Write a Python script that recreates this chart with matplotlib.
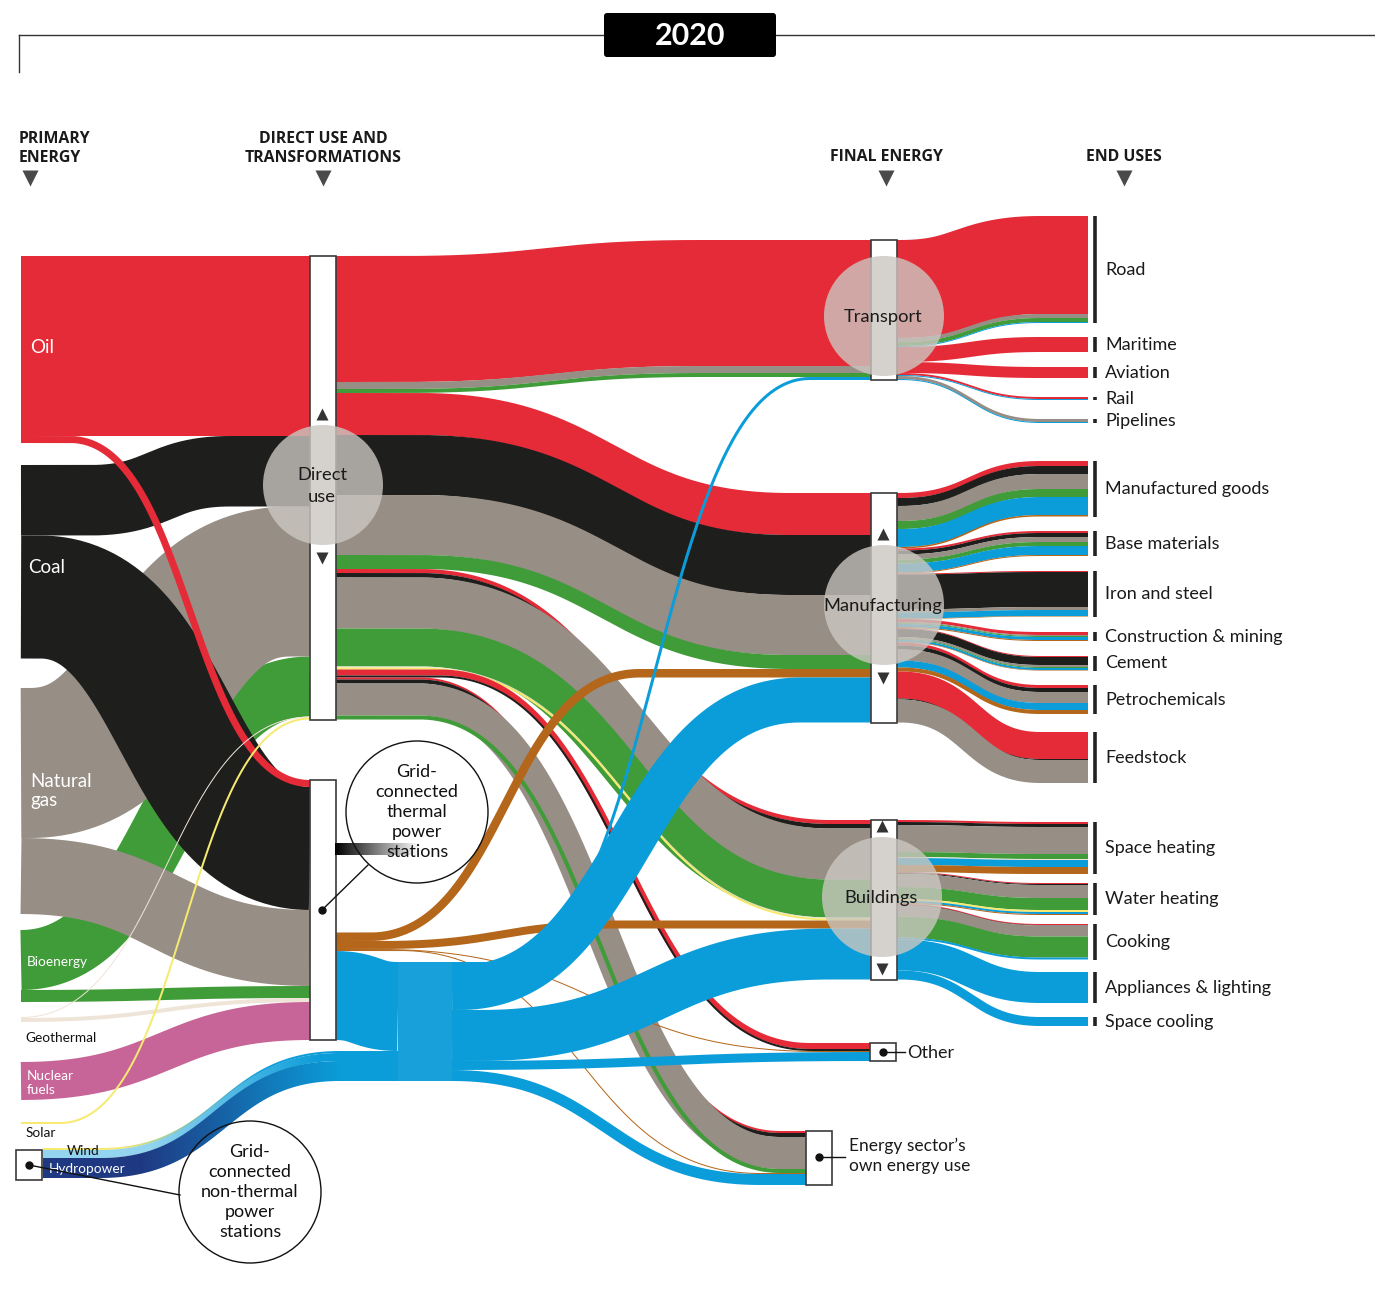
import numpy as np
import matplotlib
matplotlib.use("Agg")
import matplotlib.pyplot as plt
from matplotlib.patches import Rectangle, Circle, FancyBboxPatch, Polygon
from matplotlib.colors import to_rgb

plt.rcParams['font.family'] = ['Lato', 'DejaVu Sans']

# ---------------- data (flow widths) ----------------
direct_carriers = ['oil', 'coal', 'gas', 'bio', 'geo', 'solar']
end_order = ['oil', 'coal', 'gas', 'bio', 'geo', 'solar', 'elec', 'heat']

transport_uses = ['Road', 'Maritime', 'Aviation', 'Rail', 'Pipelines']
transport_oil = [98, 15, 11, 2, 0]
transport_gas = [4, 0, 0, 0, 3]
transport_bio = [4, 0, 0, 0, 0]
transport_elec = [1, 0, 0, 1, 1]

manuf_uses = ['Manufactured goods', 'Base materials', 'Iron and steel',
              'Construction & mining', 'Cement', 'Petrochemicals', 'Feedstock']
manuf_oil = [5, 2, 1, 3, 1, 3, 27]
manuf_coal = [8, 4, 35, 0, 8, 4, 1]
manuf_gas = [15, 5, 3, 1, 2, 11, 23]
manuf_bio = [8, 4, 0, 1, 1, 0, 0]
manuf_elec = [18, 9, 6, 3, 2, 7, 0]
manuf_heat = [1.5, 1, 0.5, 1, 0.5, 4, 0]

build_uses = ['Space heating', 'Water heating', 'Cooking',
              'Appliances & lighting', 'Space cooling']
build_oil = [2, 1, 1, 0, 0]
build_coal = [3, 1, 0.5, 0, 0]
build_gas = [27, 13, 11, 0, 0]
build_bio = [5, 12, 21, 0, 0]
build_geo = [1, 0, 0, 0, 0]
build_solar = [0, 2, 0, 0, 0]
build_elec = [7, 2, 2, 31, 9]
build_heat = [7, 1, 0, 0, 0]

other_carriers = ['oil', 'coal', 'heat', 'elec']
other_values = [6, 2, 1, 9]
energy_carriers = ['oil', 'coal', 'gas', 'bio', 'heat', 'elec']
energy_values = [2, 4, 32, 4, 1, 11]

thermal_inputs = ['oil', 'coal', 'gas', 'bio', 'geo', 'nuclear']
thermal_values = [7, 123, 76, 12, 4, 38]
nonthermal_sources = ['solar', 'wind', 'hydro']
nonthermal_values = [2, 8, 20]

sectors = {
    'Transport': dict(uses=transport_uses, oil=transport_oil, gas=transport_gas,
                      bio=transport_bio, elec=transport_elec),
    'Manufacturing': dict(uses=manuf_uses, oil=manuf_oil, coal=manuf_coal, gas=manuf_gas,
                          bio=manuf_bio, elec=manuf_elec, heat=manuf_heat),
    'Buildings': dict(uses=build_uses, oil=build_oil, coal=build_coal, gas=build_gas,
                      bio=build_bio, geo=build_geo, solar=build_solar, elec=build_elec,
                      heat=build_heat),
    'Other': dict(uses=[], **{c: [v] for c, v in zip(other_carriers, other_values)}),
    'Energy': dict(uses=[], **{c: [v] for c, v in zip(energy_carriers, energy_values)}),
}
sec_order = ['Transport', 'Manufacturing', 'Buildings', 'Other', 'Energy']


def tot(sec, c):
    return float(sum(sectors[sec].get(c, [0])))


# ---------------- style / layout ----------------
COL = dict(oil='#e52b37', coal='#1e1e1c', gas='#978e85', bio='#3f9c38', geo='#efe4d8',
           solar='#f6ea70', nuclear='#c86598', heat='#b4661a', elec='#0b9dd9',
           wind='#93d4ef', hydro='#1f3982')

W, H = 1375, 1315
fig = plt.figure(figsize=(W / 100, H / 100), dpi=100)
ax = fig.add_axes([0, 0, 1, 1])
ax.set_xlim(0, W)
ax.set_ylim(H, 0)
ax.axis('off')

PX = 0.72  # points per pixel
BOXW = 26
prim_top = dict(oil=256, coal=465, gas=688, bio=930, geo=1017, nuclear=1062, solar=1122)
sec_left_x = dict(Transport=871, Manufacturing=871, Buildings=871, Other=870, Energy=806)
sec_top = dict(Transport=240, Manufacturing=493, Buildings=820, Other=1043, Energy=1131)
use_top = {'Road': 216, 'Maritime': 337, 'Aviation': 367, 'Rail': 397, 'Pipelines': 419,
           'Manufactured goods': 461, 'Base materials': 531, 'Iron and steel': 571,
           'Construction & mining': 632, 'Cement': 656, 'Petrochemicals': 685,
           'Feedstock': 732, 'Space heating': 822, 'Water heating': 883, 'Cooking': 924,
           'Appliances & lighting': 972, 'Space cooling': 1017}
X_END = 1088


class Port:
    def __init__(self, x, y):
        self.x, self.y0, self.y = x, y, y

    def take(self, w):
        y = self.y
        self.y += w
        return y


def centre_path(x0, y0, x1, y1, span=None, n=200):
    ca, cb = span if span else (x0, x1)
    cm = 0.5 * (ca + cb)
    t = np.linspace(0, 1, n)
    bx = ca * (1 - t) ** 3 + 3 * cm * (1 - t) ** 2 * t + 3 * cm * (1 - t) * t ** 2 + cb * t ** 3
    by = y0 * ((1 - t) ** 3 + 3 * (1 - t) ** 2 * t) + y1 * (3 * (1 - t) * t ** 2 + t ** 3)
    xs, ys = list(bx), list(by)
    if ca > x0 + 0.01:
        xs, ys = [x0] + xs, [y0] + ys
    if cb < x1 - 0.01:
        xs, ys = xs + [x1], ys + [y1]
    return np.array(xs), np.array(ys)


def link(x0, y0, x1, y1, w, color, span=None, z=2.0):
    if w <= 0:
        return
    xs, ys = centre_path(x0, y0 + w / 2, x1, y1 + w / 2, span)
    ax.plot(xs, ys, color=color, lw=w * PX, solid_capstyle='butt',
            solid_joinstyle='round', zorder=z)


def grad_link(x0, y0, x1, y1, w, c0, c1, g0, g1, span, z):
    xs, ys = centre_path(x0, y0 + w / 2, x1, y1 + w / 2, span, n=400)
    dx, dy = np.gradient(xs), np.gradient(ys)
    L = np.hypot(dx, dy)
    L[L == 0] = 1
    nx, ny = -dy / L, dx / L
    top = np.column_stack([xs + nx * w / 2, ys + ny * w / 2])
    bot = np.column_stack([xs - nx * w / 2, ys - ny * w / 2])
    poly = np.vstack([top, bot[::-1]])
    patch = Polygon(poly, closed=True, fc='none', ec='none')
    ax.add_patch(patch)
    gx = np.linspace(x0, x1, 300)
    f = np.clip((gx - g0) / (g1 - g0), 0, 1)[:, None]
    rgb = (1 - f) * np.array(to_rgb(c0)) + f * np.array(to_rgb(c1))
    im = ax.imshow(rgb[None, :, :], extent=(x0, x1, poly[:, 1].max(), poly[:, 1].min()),
                   aspect='auto', zorder=z, interpolation='bilinear')
    im.set_clip_path(patch)


# ---------------- primary -> direct use / thermal ----------------
P = {k: Port(21, v) for k, v in prim_top.items()}
DU_L = Port(310, 256)
TH_L = Port(310, 780)
prim_span_du = dict(oil=None, coal=(90, 230), gas=(30, 290), bio=(21, 310),
                    geo=(21, 310), solar=(60, 310))
prim_z_du = dict(oil=2.5, coal=2.4, gas=2.1, bio=2.0, geo=2.9, solar=2.95)
direct_tot = {c: sum(tot(s, c) for s in sec_order) for c in direct_carriers}
for c in direct_carriers:
    w = direct_tot[c]
    link(21, P[c].take(w), 310, DU_L.take(w), w, COL[c], prim_span_du[c], prim_z_du[c])

prim_span_th = dict(oil=(70, 310), coal=(40, 310), gas=None, bio=None, geo=None, nuclear=None)
prim_z_th = dict(oil=2.8, coal=2.3, gas=2.2, bio=2.2, geo=2.6, nuclear=2.6)
for c, v in zip(thermal_inputs, thermal_values):
    link(21, P[c].take(v), 310, TH_L.take(v), v, COL[c], prim_span_th[c], prim_z_th[c])

# ---------------- direct use -> final sectors ----------------
SL = {s: Port(sec_left_x[s], sec_top[s]) for s in sec_order}
DU_R = Port(335, 256)
du_span = dict(Transport=(400, 700), Manufacturing=(420, 790), Buildings=(420, 830),
               Other=(440, 810), Energy=(420, 780))
for s in sec_order:
    for c in direct_carriers:
        w = tot(s, c)
        if w > 0:
            link(335, DU_R.take(w), SL[s].x, SL[s].take(w), w, COL[c], du_span[s], 4)

# ---------------- thermal -> heat / electricity ----------------
heat_tot = sum(tot(s, 'heat') for s in sec_order)
elec_tot = sum(tot(s, 'elec') for s in sec_order)
nt_tot = sum(nonthermal_values)
th_elec = elec_tot - nt_tot
losses = sum(thermal_values) - heat_tot - th_elec
TH_R = Port(335, 780)
loss_y = TH_R.take(losses)
heat_span = dict(Manufacturing=(370, 640), Buildings=(380, 620), Other=(380, 820),
                 Energy=(400, 760))
for s in sec_order:
    w = tot(s, 'heat')
    if w > 0:
        link(335, TH_R.take(w), SL[s].x, SL[s].take(w), w, COL['heat'], heat_span[s], 5)

J_L = Port(398, 962)
ey = TH_R.take(th_elec)
link(335, ey, 398, J_L.take(th_elec), th_elec, COL['elec'], None, 6)

# non-thermal power stations (gradient towards electricity blue)
NT = Port(43, 1148)
nt_cols = dict(solar=COL['solar'], wind=COL['wind'], hydro=COL['hydro'])
nt_grad = dict(solar=(120, 260), wind=(150, 320), hydro=(140, 340))
for c, v in zip(nonthermal_sources, nonthermal_values):
    g0, g1 = nt_grad[c]
    grad_link(43, NT.take(v), 398, J_L.take(v), v, nt_cols[c], COL['elec'], g0, g1,
              (100, 340), 6)

J_R = Port(452, 962)
el_span = dict(Transport=(500, 810), Manufacturing=(460, 800), Buildings=(480, 830),
               Other=None, Energy=(452, 760))
for s in sec_order:
    w = tot(s, 'elec')
    if w > 0:
        link(452, J_R.take(w), SL[s].x, SL[s].take(w), w, COL['elec'], el_span[s],
             7 if s == 'Transport' else 6)
ax.add_patch(Rectangle((398, J_L.y0), 54, J_L.y - J_L.y0, fc='#17a0da', ec='none', zorder=6.5))

# ---------------- final sectors -> end uses ----------------
for s in ['Transport', 'Manufacturing', 'Buildings']:
    SR = Port(sec_left_x[s] + BOXW, sec_top[s])
    d = sectors[s]
    for i, u in enumerate(d['uses']):
        EP = Port(X_END, use_top[u])
        for c in end_order:
            if c in d:
                w = d[c][i]
                if w > 0:
                    link(SR.x, SR.take(w), X_END, EP.take(w), w, COL[c], (900, 1040), 4)
        ax.plot([1095, 1095], [use_top[u], EP.y], color='#222222', lw=2.6,
                solid_capstyle='butt', zorder=8)
        ax.text(1105, (use_top[u] + EP.y) / 2, u, fontsize=13, va='center', ha='left',
                color='#1a1a1a', zorder=10)
    SL[s].y = max(SL[s].y, SR.y)


# ---------------- node boxes ----------------
def box(x, y0, y1, z=8):
    ax.add_patch(Rectangle((x, y0), BOXW, y1 - y0, fc='white', ec='#3b3b3b', lw=1.2, zorder=z))


box(310, 256, max(DU_L.y, DU_R.y))
box(310, 780, max(TH_L.y, TH_R.y))
for s in sec_order:
    box(sec_left_x[s], sec_top[s], SL[s].y)
box(16, 1150, 1180)

# translucent circles
for (cx, cy), lab in [((323, 485), 'Direct\nuse'), ((884, 316), 'Transport'),
                      ((884, 605), 'Manufacturing'), ((882, 897), 'Buildings')]:
    ax.add_patch(Circle((cx, cy), 60, fc='#cbc7c1', alpha=0.8, ec='none', zorder=9))
    ax.text(cx - 1, cy + 1, lab, fontsize=13.2, ha='center', va='center', color='#1a1a1a',
            linespacing=1.4, zorder=10)

# small arrows inside nodes
for x, y, m in [(322, 414, '^'), (322, 558, 'v'), (883, 534, '^'), (883, 678, 'v'),
                (882, 826, '^'), (882, 969, 'v')]:
    ax.plot(x, y, marker=m, ms=9, color='#333333', mec='none', zorder=11)

# losses stub (gradient)
grad = np.linspace(0, 1, 200)[:, None] * np.ones(3)
ax.imshow(grad[None, :, :], extent=(335, 420, loss_y + 75, loss_y + 63), aspect='auto',
          zorder=9.5, interpolation='bilinear')

# outlined circles
for (cx, cy), lab in [((417, 812), 'Grid-\nconnected\nthermal\npower\nstations'),
                      ((250, 1192), 'Grid-\nconnected\nnon-thermal\npower\nstations')]:
    ax.add_patch(Circle((cx, cy), 71, fc='none', ec='#111111', lw=1.0, zorder=9.6))
    ax.text(cx, cy, lab, fontsize=13, ha='center', va='center', color='#111111',
            linespacing=1.3, zorder=10)

# leader lines and dots
for (x0, y0), (x1, y1) in [((322, 910), (368, 865)), ((29, 1165), (180, 1195)),
                           ((883, 1052), (905, 1052)), ((819, 1157), (845, 1157))]:
    ax.plot([x0, x1], [y0, y1], color='#111111', lw=1.0, zorder=11)
    ax.plot(x0, y0, 'o', ms=5, color='#111111', zorder=11)

ax.text(907, 1053, 'Other', fontsize=13, va='center', ha='left', color='#1a1a1a', zorder=10)
ax.text(849, 1156, 'Energy sector\u2019s\nown energy use', fontsize=12.5, va='center',
        ha='left', color='#1a1a1a', linespacing=1.35, zorder=10)


# primary labels
def lab(x, y, s, size, color):
    ax.text(x, y, s, fontsize=size, va='center', ha='left', color=color, linespacing=1.15,
            zorder=10)


lab(30, 347, 'Oil', 13.5, 'white')
lab(28, 567, 'Coal', 13.5, 'white')
lab(30, 791, 'Natural\ngas', 13.5, 'white')
lab(27, 962, 'Bioenergy', 9.8, 'white')
lab(25, 1038, 'Geothermal', 9.8, '#111111')
lab(27, 1083, 'Nuclear\nfuels', 9.8, 'white')
lab(26, 1133, 'Solar', 9.8, '#111111')
lab(67, 1151, 'Wind', 9.8, '#111111')
lab(49, 1169, 'Hydropower', 9.8, 'white')

# ---------------- header ----------------
ax.plot([19, W], [35, 35], color='#333333', lw=1.0, zorder=1)
ax.plot([19, 19], [35, 72], color='#333333', lw=1.0, zorder=1)
ax.add_patch(FancyBboxPatch((604, 13), 172, 44, boxstyle='round,pad=0,rounding_size=3',
                            fc='black', ec='none', zorder=5))
ax.text(690, 36, '2020', fontsize=22, fontweight='bold', color='white', ha='center',
        va='center', zorder=6)

hdr = dict(fontsize=11.4, fontweight='bold', color='#1a1a1a', va='center', linespacing=1.25,
           family=['Open Sans', 'DejaVu Sans'])
ax.text(19, 148, 'PRIMARY\nENERGY', ha='left', **hdr)
ax.text(323, 148, 'DIRECT USE AND\nTRANSFORMATIONS', ha='center', multialignment='center', **hdr)
ax.text(886, 157, 'FINAL ENERGY', ha='center', **hdr)
ax.text(1124, 157, 'END USES', ha='center', **hdr)
for x in [30, 323, 886, 1124]:
    ax.plot(x, 178, marker='v', ms=11, color='#4a4a4a', mec='none')

ax.set_xlim(0, W)
ax.set_ylim(H, 0)
fig.savefig('out.png', dpi=100)
